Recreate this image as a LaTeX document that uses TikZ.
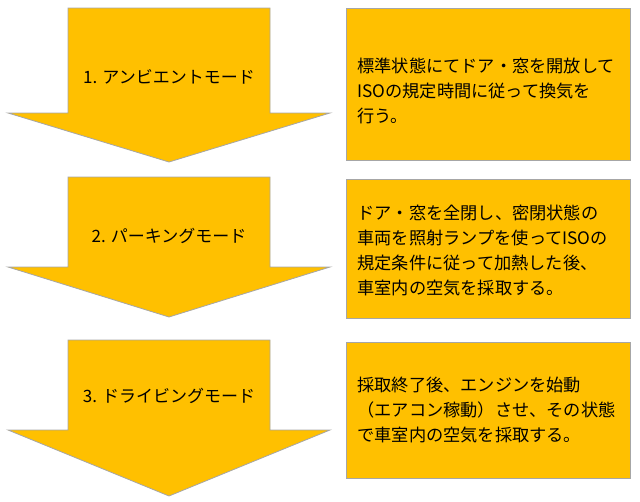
\documentclass[tikz,border=0pt]{standalone}
\usepackage{fontspec}
\setmainfont{Noto Sans CJK JP}
\tikzset{
  modearrow/.style={fill=modefill, draw=edgegray, line width=0.8pt},
  notebox/.style={fill=modefill, draw=edgegray, line width=0.8pt, minimum width=284pt, anchor=north west, inner sep=0pt},
  notetext/.style={align=left, anchor=west, font=\fontsize{17.2}{25}\selectfont},
  modelabel/.style={font=\fontsize{17}{20}\selectfont}
}
\definecolor{modefill}{HTML}{FFC000}
\definecolor{edgegray}{HTML}{A6A6A6}
\begin{document}
\begin{tikzpicture}[x=1pt,y=-1pt]
	\useasboundingbox (0,0) rectangle (640,501);
	% arrows: top, head base, tip
	\foreach \top/\base/\tip [count=\i] in {8/113/162, 177/267/317, 340/430/496}{
		\draw[modearrow] (68,\top) -- (270,\top) -- (270,\base) -- (330,\base) -- (169,\tip) -- (8,\base) -- (68,\base) -- cycle;
	}
	\node[modelabel] (m1) at (169,77) {1. アンビエントモード};
	\node[modelabel] (m2) at (169,236) {2. パーキングモード};
	\node[modelabel] (m3) at (169,396) {3. ドライビングモード};
	% notes
	\node[notebox, minimum height=152pt] (b1) at (346,8) {};
	\node[notebox, minimum height=139pt] (b2) at (346,179) {};
	\node[notebox, minimum height=136pt] (b3) at (346,342) {};
	\node[notetext] (n1) at (354,91) {標準状態にてドア・窓を開放して\\ISOの規定時間に従って換気を\\行う。};
	\node[notetext] (n2) at (354,250) {ドア・窓を全閉し、密閉状態の\\車両を照射ランプを使ってISOの\\規定条件に従って加熱した後、\\車室内の空気を採取する。};
	\node[notetext] (n3) at (354,410) {採取終了後、エンジンを始動\\（エアコン稼動）させ、その状態\\で車室内の空気を採取する。};
\end{tikzpicture}
\end{document}
